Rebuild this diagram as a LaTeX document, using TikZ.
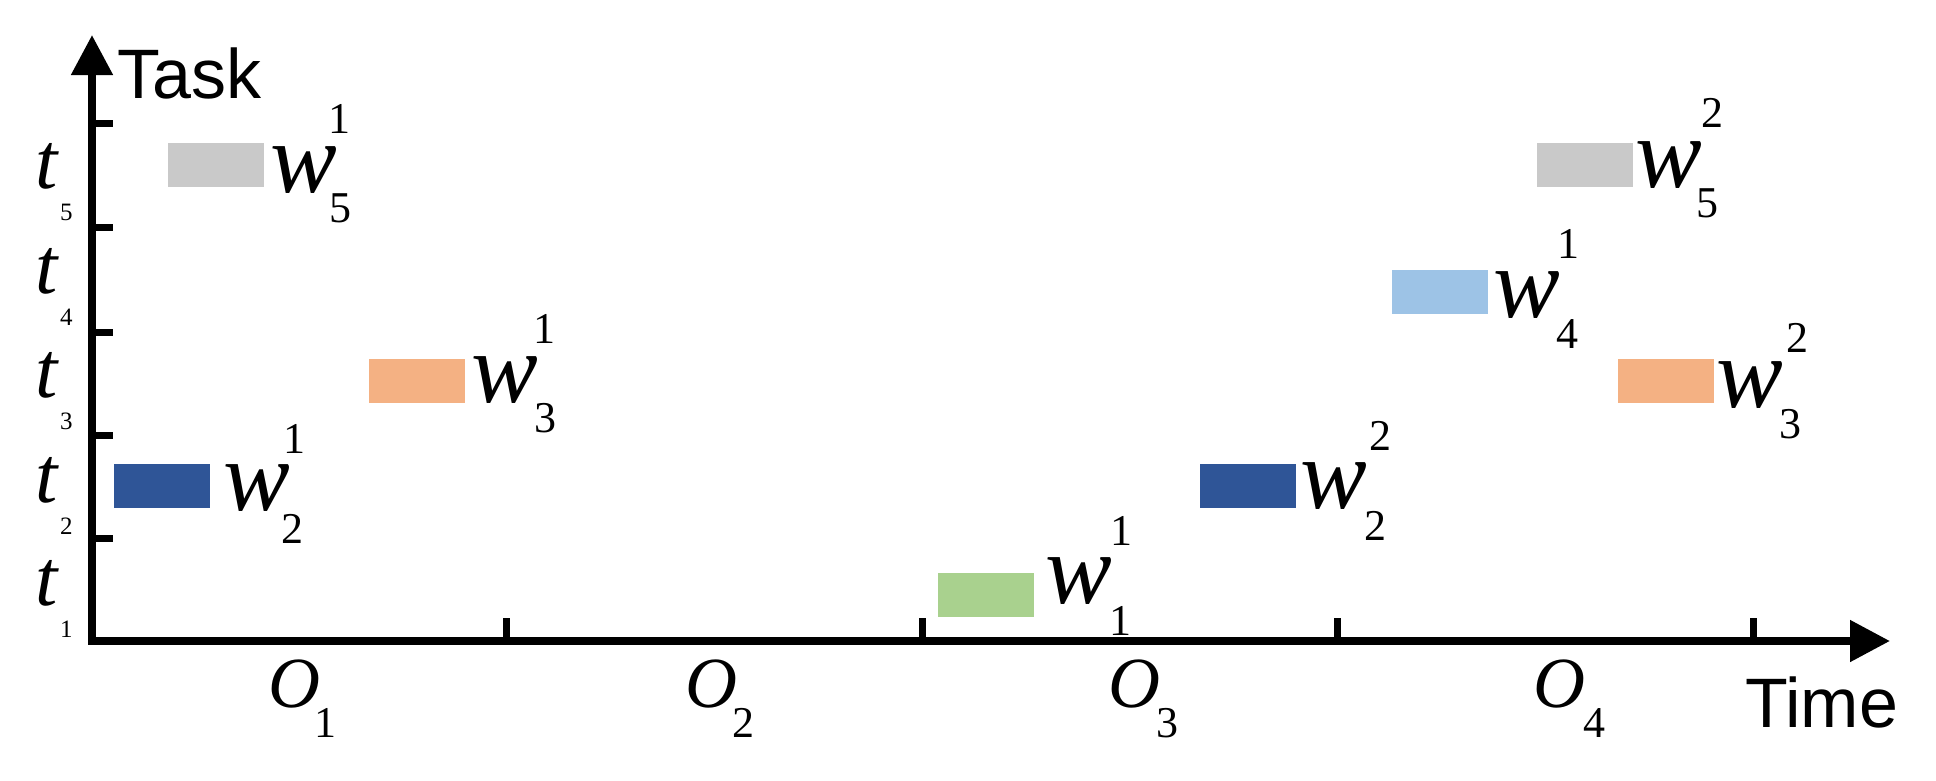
\documentclass[tikz,border=0pt]{standalone}
\usepackage{fontspec}
\setmainfont{Liberation Serif}[ItalicFont={Liberation Serif Italic}]
\newfontfamily\arialf{Liberation Sans}
\newfontfamily\serifit{Liberation Serif Italic}
\usetikzlibrary{arrows.meta}
\definecolor{cgray}{HTML}{C9C9C9}
\definecolor{cnavy}{HTML}{2F5597}
\definecolor{clblue}{HTML}{9DC3E6}
\definecolor{corange}{HTML}{F4B183}
\definecolor{cgreen}{HTML}{A9D18E}
\tikzset{
  bar/.style={inner sep=0pt, minimum width=96pt, minimum height=44pt, anchor=north west, draw=none},
  wlab/.style={inner sep=0pt, anchor=base west, font=\serifit\fontsize{100}{100}\selectfont},
  scr/.style={inner sep=0pt, anchor=base west, font=\fontsize{44}{44}\selectfont},
  tlab/.style={inner sep=0pt, anchor=base west, font=\serifit\fontsize{80}{80}\selectfont},
  tscr/.style={inner sep=0pt, anchor=base west, font=\fontsize{25}{25}\selectfont},
  olab/.style={inner sep=0pt, anchor=base west, font=\serifit\fontsize{72}{72}\selectfont},
  axlab/.style={inner sep=0pt, anchor=base west, font=\arialf\fontsize{70}{70}\selectfont},
  axis/.style={line width=8pt, line join=miter, {Triangle[length=40pt,width=40pt]}-{Triangle[length=40pt,width=40pt]}},
  tick/.style={line width=7pt}
}
\begin{document}
\begin{tikzpicture}[x=1pt,y=-1pt]
\useasboundingbox (0,0) rectangle (1936,780);
% axes
\coordinate (ytip) at (92,35);
\coordinate (xtip) at (1890,641);
\draw[axis] (ytip) |- (xtip);
% y ticks
\foreach \yy [count=\i] in {123,227,332,435,538} {
  \coordinate (ya\i) at (92,\yy);
  \coordinate (yb\i) at (113,\yy);
  \draw[tick] (ya\i) -- (yb\i);
}
% x ticks
\foreach \xx [count=\i] in {506,922,1337,1753} {
  \coordinate (xa\i) at (\xx,641);
  \coordinate (xb\i) at (\xx,618);
  \draw[tick] (xa\i) -- (xb\i);
}
% axis labels
\node[axlab] (task) at (117,98) {Task};
\node[axlab] (time) at (1745,727) {Time};
% t labels
\foreach \k/\yy in {5/188,4/293,3/397,2/502,1/605} {
  \node[tlab] (t\k) at (35,\yy) {t};
  \node[tscr] (ts\k) at (60,\yy+32) {\k};
}
% O labels
\node[olab] (o1) at (268,707) {O};
\node[scr] (os1) at (314,737) {1};
\node[olab] (o2) at (685,707) {O};
\node[scr] (os2) at (732,737) {2};
\node[olab] (o3) at (1108,707) {O};
\node[scr] (os3) at (1156,737) {3};
\node[olab] (o4) at (1533,707) {O};
\node[scr] (os4) at (1583,737) {4};
% bars
\node[bar, fill=cgray]   (b51) at (168,143) {};
\node[bar, fill=corange] (b31) at (369,359) {};
\node[bar, fill=cnavy]   (b21) at (114,464) {};
\node[bar, fill=cgreen]  (b11) at (938,573) {};
\node[bar, fill=cnavy]   (b22) at (1200,464) {};
\node[bar, fill=clblue]  (b41) at (1392,270) {};
\node[bar, fill=cgray]   (b52) at (1537,143) {};
\node[bar, fill=corange] (b32) at (1618,359) {};
% w labels
\node[wlab] (w51) at (270,192) {w};
\node[scr] (w51u) at (328,133) {1};
\node[scr] (w51d) at (329,222) {5};
\node[wlab] (w31) at (471,402) {w};
\node[scr] (w31u) at (533,343) {1};
\node[scr] (w31d) at (534,432) {3};
\node[wlab] (w21) at (223,510) {w};
\node[scr] (w21u) at (283,453) {1};
\node[scr] (w21d) at (281,543) {2};
\node[wlab] (w11) at (1045,603) {w};
\node[scr] (w11u) at (1110,545) {1};
\node[scr] (w11d) at (1109,635) {1};
\node[wlab] (w22) at (1300,508) {w};
\node[scr] (w22u) at (1369,450) {2};
\node[scr] (w22d) at (1364,540) {2};
\node[wlab] (w41) at (1493,317) {w};
\node[scr] (w41u) at (1557,258) {1};
\node[scr] (w41d) at (1556,348) {4};
\node[wlab] (w52) at (1635,187) {w};
\node[scr] (w52u) at (1701,127) {2};
\node[scr] (w52d) at (1696,217) {5};
\node[wlab] (w32) at (1716,407) {w};
\node[scr] (w32u) at (1786,352) {2};
\node[scr] (w32d) at (1779,438) {3};
\end{tikzpicture}
\end{document}
